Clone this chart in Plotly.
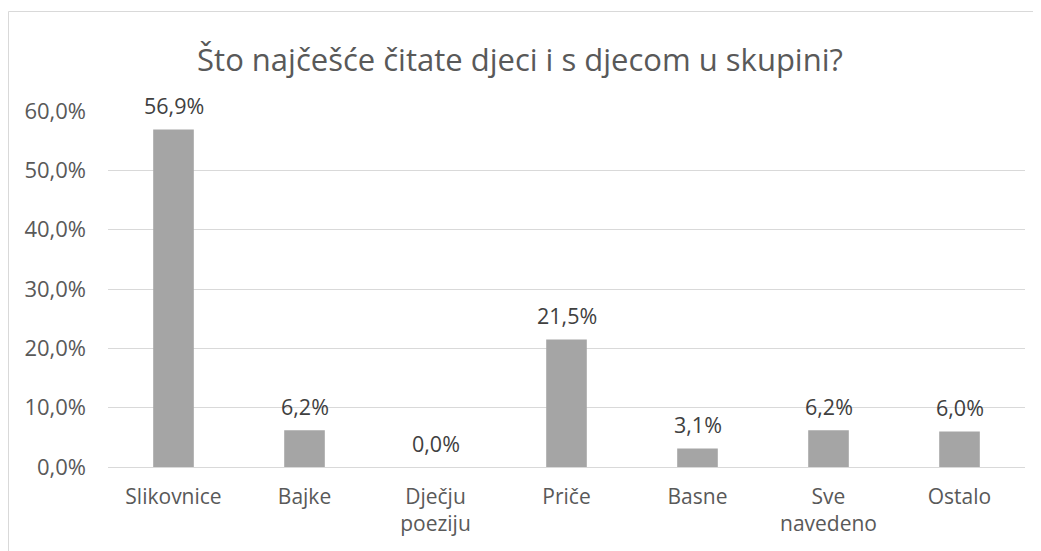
import plotly.graph_objects as go

categories = ["Slikovnice", "Bajke", "Dječju<br>poeziju", "Priče", "Basne", "Sve<br>navedeno", "Ostalo"]
values = [56.9, 6.2, 0.0, 21.5, 3.1, 6.2, 6.0]
y_ticks = [0, 10, 20, 30, 40, 50, 60]
y_tick_text = [f"{t:.1f}%".replace(".", ",") for t in y_ticks]

FONT = "Open Sans"
OFF = 8  # default body margin of the page
W, H = 1041 - OFF, 551 - OFF
L, R, T, B = 108 - OFF, 1041 - 1025, 111 - OFF, 551 - 467
PW, PH = W - L - R, H - T - B

fig = go.Figure()
fig.add_trace(go.Bar(x=categories, y=values, marker=dict(color="#A5A5A5", line=dict(width=0)),
                     hoverinfo="skip"))

for c, v in zip(categories, values):
    fig.add_annotation(x=c, y=v, text=f"{v:.1f}%".replace(".", ","), showarrow=False,
                       yanchor="middle", yshift=24,
                       font=dict(family=FONT, size=21.5, color="#404040"))

fig.update_layout(
    width=W, height=H,
    margin=dict(l=L, r=R, t=T, b=B),
    paper_bgcolor="white", plot_bgcolor="white",
    bargap=0.69,
    showlegend=False,
    title=dict(text="Što najčešće čitate djeci i s djecom u skupini?",
               x=(520 - OFF) / W, xref="container", xanchor="center",
               y=1 - (60 - OFF) / H, yanchor="middle",
               font=dict(family=FONT, size=31, color="#595959")),
    xaxis=dict(showgrid=False, showline=False, zeroline=False, ticks="",
               tickfont=dict(family=FONT, size=21, color="#595959"),
               ticklabelstandoff=15),
    yaxis=dict(range=[0, 60], tickmode="array", tickvals=y_ticks, ticktext=y_tick_text,
               showgrid=True, gridcolor="#D9D9D9", gridwidth=1,
               zeroline=True, zerolinecolor="#D9D9D9", zerolinewidth=1,
               showline=False, ticks="",
               tickfont=dict(family=FONT, size=22, color="#595959"),
               ticklabelstandoff=21),
    shapes=[dict(type="rect", xref="paper", yref="paper",
                 x0=(0.5 - L) / PW, x1=1.5, y0=-1.0, y1=(PH + T - (12 - OFF) + 0.5) / PH,
                 line=dict(color="#D9D9D9", width=1), fillcolor="rgba(0,0,0,0)", layer="below")],
)

fig.write_html("out.html")
